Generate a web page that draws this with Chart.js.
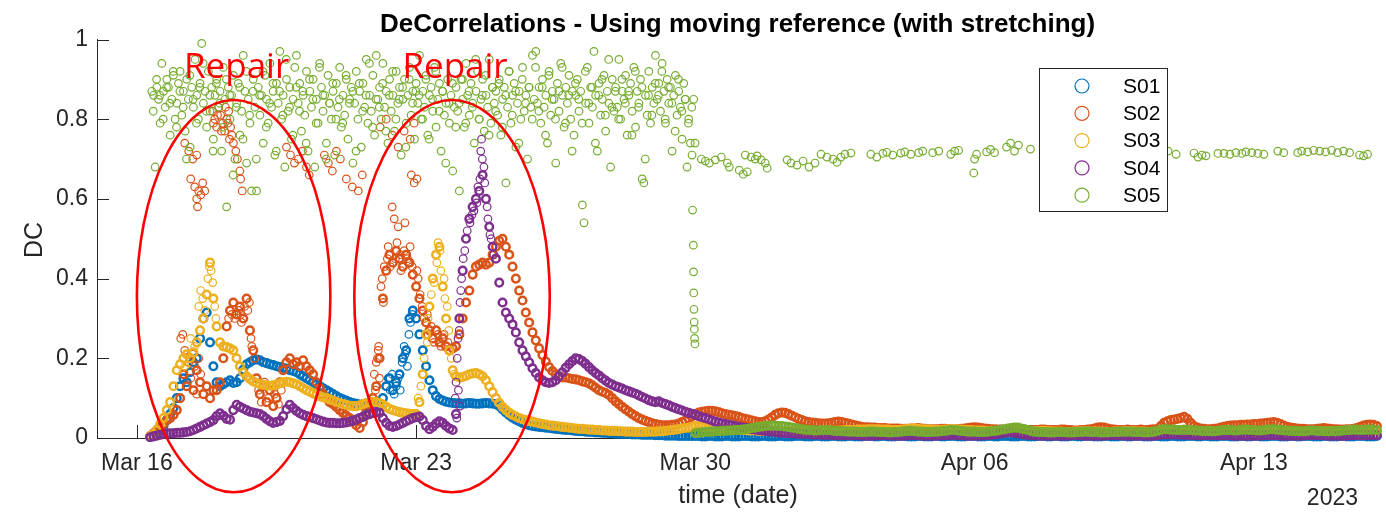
<!DOCTYPE html>
<html><head><meta charset="utf-8">
<script src="https://cdn.jsdelivr.net/npm/chart.js@4.4.1/dist/chart.umd.min.js"></script>
<style>html,body{margin:0;padding:0;background:#fff;}canvas{display:block;}</style>
</head><body>
<canvas id="c" width="1386" height="512" style="width:1386px;height:512px"></canvas>
<script>
const TITLE = 'DeCorrelations - Using moving reference (with stretching)';
const X_TITLE = 'time (date)';
const Y_TITLE = 'DC';
const YEAR_LABEL = '2023';
const REPAIR_LABEL = 'Repair';
const seriesNames = ['S01', 'S02', 'S03', 'S04', 'S05'];
const seriesColors = ['#0072BD', '#D95319', '#EDB120', '#7E2F8E', '#77AC30'];
// x values are days counted from Mar 15 2023 00:00
const xTickDays = [1, 8, 15, 22, 29];
const xTickLabels = ['Mar 16', 'Mar 23', 'Mar 30', 'Apr 06', 'Apr 13'];
const yTicks = [0, 0.2, 0.4, 0.6, 0.8, 1];
const X_MIN = 0, X_MAX = 32.15;
// regular 2-hour sampling grid (first sample Mar 16 08:00)
const GRID_START = 4 / 3;
const GRID_STEP = 1 / 12;
const S05_LOW_START = 15;
const S05_HIGH_START = 1.375;
const S05_HIGH_STEP = 1 / 24;
const S05_HIGHB_START = 1.41;

const s01 = [
0.003,0.008,0.012,0.02,0.03,0.045,0.06,0.075,
0.1,0.13,0.15,0.14,0.165,0.19,0.2,0.25,0.3,0.315,0.24,0.18,
0.14,0.13,0.135,0.14,0.145,0.138,0.14,0.15,0.172,0.185,0.19,0.195,
0.197,0.195,0.19,0.188,0.185,0.183,0.18,0.178,0.176,0.174,0.17,0.168,
0.165,0.16,0.155,0.15,0.145,0.14,0.135,0.13,0.125,0.12,0.115,0.11,
0.105,0.1,0.097,0.094,0.09,0.088,0.086,0.084,0.082,0.08,0.079,0.078,
0.078,0.08,0.1,0.13,0.15,0.12,0.14,0.16,0.2,0.22,0.3,0.32,
0.3,0.26,0.22,0.18,0.145,0.12,0.105,0.098,0.094,0.091,0.089,0.088,
0.087,0.087,0.086,0.087,0.088,0.087,0.086,0.086,0.087,0.088,0.087,0.086,
0.085,0.08,0.072,0.064,0.057,0.051,0.046,0.042,0.038,0.035,0.032,0.03,
0.029,0.028,0.027,0.026,0.025,0.024,0.023,0.022,0.021,0.02,0.02,0.019,
0.018,0.017,0.017,0.016,0.015,0.015,0.014,0.014,0.013,0.013,0.012,0.012,
0.011,0.011,0.01,0.01,0.01,0.009,0.009,0.009,0.008,0.008,0.008,0.008,
0.007,0.007,0.007,0.006,0.006,0.006,0.006,0.005,0.005,0.005,0.005,0.005,
0.005,0.005,0.004,0.004,0.005,0.005,0.004,0.004,0.004,0.005,0.005,0.004,
0.004,0.004,0.005,0.005,0.005,0.004,0.004,0.004,0.005,0.005,0.004,0.004,
0.004,0.005,0.005,0.004,0.004,0.004,0.005,0.005,0.005,0.004,0.004,0.004,
0.005,0.005,0.004,0.004,0.004,0.005,0.005,0.004,0.004,0.004,0.005,0.005,
0.004,0.004,0.004,0.005,0.005,0.005,0.004,0.004,0.005,0.005,0.004,0.004,
0.004,0.005,0.005,0.005,0.004,0.004,0.004,0.005,0.005,0.004,0.004,0.004,
0.005,0.005,0.004,0.004,0.005,0.005,0.005,0.004,0.004,0.004,0.005,0.005,
0.005,0.004,0.004,0.004,0.005,0.005,0.004,0.004,0.005,0.005,0.005,0.004,
0.004,0.004,0.005,0.005,0.004,0.004,0.004,0.005,0.005,0.005,0.004,0.004,
0.005,0.005,0.004,0.004,0.004,0.005,0.005,0.004,0.004,0.005,0.005,0.005,
0.004,0.004,0.004,0.005,0.005,0.004,0.004,0.004,0.005,0.005,0.004,0.004,
0.005,0.005,0.005,0.004,0.004,0.004,0.005,0.005,0.004,0.004,0.004,0.005,
0.005,0.004,0.004,0.004,0.005,0.005,0.005,0.004,0.004,0.005,0.005,0.004,
0.004,0.004,0.005,0.005,0.005,0.004,0.004,0.004,0.005,0.005,0.004,0.004,
0.005,0.005,0.004,0.004,0.004,0.005,0.005,0.005,0.004,0.004,0.004,0.005,
0.005,0.004,0.004,0.005,0.005,0.005,0.004,0.004,0.004,0.005,0.005,0.004,
0.004,0.004,0.005,0.005,0.004,0.004,0.004,0.005,0.005,0.005,0.004,0.004,
0.004,0.005
];
const s01Scatter = [
[7.3,0.15],[7.35,0.12],[7.4,0.16],[7.45,0.11],[7.5,0.13],[7.55,0.15],[7.6,0.12],[7.65,0.19],
[7.7,0.23],[7.72,0.21],[7.78,0.18],[7.82,0.26],[7.86,0.29],[7.9,0.31]
];

const s02 = [
0.005,0.012,0.02,0.028,0.035,0.045,0.05,0.058,
0.07,0.1,0.16,0.13,0.2,0.12,0.17,0.14,0.11,0.13,0.1,0.12,
0.12,0.14,0.2,0.28,0.32,0.34,0.31,0.33,0.3,0.35,0.27,0.22,
0.15,0.11,0.13,0.09,0.12,0.08,0.1,0.14,0.17,0.19,0.2,0.185,
0.19,0.18,0.195,0.18,0.17,0.16,0.14,0.125,0.11,0.1,0.09,0.085,
0.078,0.07,0.063,0.056,0.05,0.042,0.032,0.025,0.04,0.065,0.085,0.1,
0.13,0.2,0.35,0.42,0.46,0.44,0.47,0.45,0.43,0.46,0.44,0.41,
0.38,0.35,0.32,0.29,0.27,0.25,0.27,0.24,0.25,0.23,0.22,0.225,
0.23,0.26,0.3,0.34,0.37,0.41,0.43,0.435,0.44,0.435,0.44,0.46,
0.48,0.495,0.5,0.48,0.46,0.43,0.4,0.37,0.345,0.315,0.29,0.265,
0.245,0.225,0.208,0.192,0.178,0.168,0.16,0.155,0.152,0.152,0.15,0.148,
0.147,0.145,0.142,0.14,0.137,0.132,0.126,0.12,0.116,0.113,0.108,0.1,
0.092,0.085,0.078,0.072,0.066,0.06,0.055,0.05,0.046,0.043,0.04,0.037,
0.035,0.033,0.032,0.032,0.032,0.033,0.034,0.036,0.04,0.044,0.049,0.054,
0.06,0.064,0.066,0.067,0.068,0.068,0.067,0.065,0.062,0.06,0.058,0.057,
0.055,0.053,0.05,0.048,0.046,0.044,0.042,0.04,0.04,0.042,0.046,0.052,
0.058,0.062,0.064,0.063,0.06,0.056,0.052,0.048,0.045,0.042,0.04,0.039,
0.038,0.037,0.036,0.036,0.037,0.038,0.04,0.041,0.04,0.038,0.036,0.034,
0.032,0.03,0.028,0.027,0.027,0.026,0.026,0.025,0.025,0.025,0.024,0.024,
0.024,0.024,0.023,0.023,0.023,0.024,0.024,0.025,0.024,0.023,0.022,0.022,
0.022,0.022,0.023,0.023,0.022,0.022,0.021,0.022,0.023,0.024,0.025,0.026,
0.027,0.026,0.025,0.024,0.023,0.022,0.022,0.021,0.021,0.021,0.021,0.022,
0.022,0.023,0.022,0.021,0.02,0.02,0.02,0.02,0.021,0.021,0.02,0.02,
0.02,0.02,0.021,0.021,0.02,0.02,0.019,0.019,0.02,0.02,0.021,0.022,
0.024,0.026,0.027,0.026,0.024,0.022,0.021,0.02,0.02,0.02,0.021,0.02,
0.02,0.02,0.021,0.02,0.02,0.021,0.022,0.022,0.03,0.038,0.042,0.045,
0.046,0.048,0.05,0.053,0.048,0.038,0.03,0.026,0.024,0.023,0.022,0.022,
0.023,0.024,0.026,0.028,0.03,0.031,0.032,0.032,0.033,0.033,0.034,0.034,
0.035,0.035,0.036,0.037,0.038,0.039,0.04,0.038,0.035,0.031,0.028,0.026,
0.025,0.024,0.023,0.023,0.022,0.022,0.022,0.023,0.024,0.025,0.024,0.023,
0.022,0.022,0.021,0.021,0.022,0.022,0.023,0.025,0.028,0.031,0.033,0.034,
0.033,0.03
];
const s02Scatter = [
[2.1,0.25],[2.15,0.26],[2.2,0.22],[2.3,0.19],[2.35,0.15],[2.4,0.21],[2.45,0.18],[2.5,0.11],[2.55,0.2],[2.6,0.16],
[3.3,0.3],[3.38,0.31],[3.45,0.3],[3.55,0.32],[3.6,0.31],[3.62,0.29],[3.7,0.33],[3.78,0.32],[3.82,0.34],[3.86,0.25],[3.88,0.23],
[3.95,0.2],[4.05,0.12],[4.12,0.09],[4.2,0.14],[4.3,0.1],[4.38,0.13],[4.45,0.11],[4.55,0.085],[4.62,0.12],
[6.95,0.16],[6.98,0.12],[7.0,0.19],[7.03,0.2],[7.05,0.22],[7.06,0.23],[7.08,0.15],[7.12,0.38],[7.15,0.4],[7.18,0.34],
[7.2,0.43],[7.28,0.45],[7.3,0.48],[7.35,0.43],[7.4,0.58],[7.45,0.55],[7.48,0.45],[7.52,0.49],[7.55,0.53],[7.6,0.46],
[7.62,0.42],[7.7,0.47],[7.72,0.54],[7.78,0.45],[7.8,0.44],[7.85,0.48],[7.9,0.43],
[8.02,0.42],[8.05,0.4],[8.1,0.36],[8.15,0.33],[8.2,0.3],[8.28,0.31],[8.3,0.26],[8.38,0.28],[8.45,0.24],[8.55,0.26],[8.62,0.23],[8.7,0.26],[8.8,0.24],
[2.2,0.74],[2.3,0.72],[2.4,0.7],[2.5,0.71],[2.35,0.65],[2.45,0.63],[2.5,0.6],[2.55,0.62],[2.6,0.61],[2.65,0.64],[2.7,0.62],[2.52,0.58],
[2.9,0.82],[2.95,0.8],[3.0,0.78],[3.05,0.83],[3.1,0.81],[3.15,0.79],[3.2,0.77],[3.25,0.8],[3.3,0.82],[3.35,0.78],
[2.92,0.79],[3.02,0.81],[3.12,0.77],[3.22,0.83],[3.28,0.79],[3.32,0.75],
[3.38,0.76],[3.42,0.74],[3.48,0.72],[3.52,0.7],[3.58,0.67],[3.6,0.65],[3.64,0.62],
[4.75,0.73],[4.85,0.71],[4.95,0.69],[5.05,0.7],[5.15,0.72],[5.25,0.68],[5.32,0.66],
[5.7,0.71],[5.8,0.69],[5.9,0.67],[6.0,0.72],[6.1,0.7],[6.25,0.65],[6.4,0.63],[6.55,0.62],[6.65,0.66],
[7.1,0.78],[7.25,0.8],[7.4,0.76],[7.55,0.73],[7.7,0.77],[7.85,0.75],[7.95,0.79],[7.88,0.66],[7.95,0.64],[8.02,0.65]
];

const s03 = [
0.004,0.01,0.02,0.035,0.05,0.07,0.09,0.13,
0.17,0.185,0.2,0.21,0.2,0.215,0.24,0.27,0.3,0.36,0.44,0.35,
0.28,0.24,0.23,0.228,0.225,0.22,0.2,0.18,0.165,0.155,0.148,0.142,
0.138,0.135,0.133,0.132,0.131,0.132,0.134,0.137,0.14,0.141,0.14,0.137,
0.135,0.13,0.125,0.12,0.116,0.112,0.108,0.105,0.102,0.1,0.097,0.094,
0.091,0.088,0.085,0.083,0.081,0.08,0.08,0.082,0.085,0.088,0.09,0.091,
0.09,0.088,0.084,0.078,0.073,0.07,0.067,0.065,0.063,0.062,0.061,0.06,
0.06,0.09,0.16,0.26,0.33,0.4,0.46,0.48,0.38,0.3,0.22,0.17,
0.155,0.152,0.153,0.156,0.16,0.162,0.163,0.16,0.155,0.145,0.13,0.115,
0.1,0.088,0.078,0.07,0.063,0.058,0.054,0.05,0.047,0.045,0.043,0.041,
0.039,0.037,0.035,0.034,0.032,0.031,0.03,0.029,0.028,0.027,0.026,0.025,
0.024,0.023,0.023,0.022,0.021,0.021,0.02,0.02,0.019,0.019,0.018,0.018,
0.018,0.017,0.017,0.016,0.016,0.016,0.015,0.015,0.015,0.015,0.016,0.016,
0.016,0.017,0.017,0.018,0.019,0.02,0.021,0.022,0.024,0.025,0.026,0.028,
0.03,0.03,0.029,0.028,0.027,0.026,0.025,0.024,0.024,0.023,0.022,0.022,
0.021,0.021,0.02,0.02,0.019,0.019,0.019,0.018,0.018,0.018,0.018,0.017,
0.017,0.017,0.017,0.016,0.016,0.016,0.016,0.016,0.015,0.015,0.015,0.015,
0.015,0.016,0.016,0.017,0.017,0.018,0.018,0.019,0.019,0.02,0.02,0.02,
0.02,0.021,0.021,0.021,0.022,0.022,0.022,0.022,0.021,0.021,0.021,0.02,
0.02,0.02,0.021,0.022,0.023,0.024,0.024,0.023,0.022,0.022,0.021,0.021,
0.02,0.02,0.02,0.021,0.021,0.022,0.022,0.021,0.021,0.02,0.02,0.02,
0.019,0.019,0.019,0.018,0.018,0.018,0.018,0.017,0.017,0.017,0.017,0.017,
0.017,0.016,0.016,0.016,0.016,0.017,0.017,0.017,0.018,0.018,0.017,0.017,
0.016,0.016,0.016,0.015,0.015,0.015,0.016,0.016,0.017,0.017,0.017,0.016,
0.016,0.016,0.015,0.015,0.015,0.015,0.016,0.016,0.016,0.017,0.017,0.017,
0.017,0.016,0.016,0.016,0.015,0.015,0.015,0.016,0.016,0.017,0.017,0.018,
0.018,0.018,0.017,0.017,0.017,0.016,0.016,0.016,0.016,0.016,0.017,0.017,
0.017,0.017,0.018,0.018,0.018,0.018,0.017,0.017,0.017,0.016,0.016,0.016,
0.016,0.016,0.017,0.017,0.018,0.018,0.018,0.017,0.017,0.017,0.016,0.016,
0.016,0.015,0.015,0.015,0.016,0.016,0.016,0.017,0.017,0.017,0.016,0.016,
0.016,0.016,0.017,0.017,0.017,0.018,0.018,0.018,0.017,0.017,0.017,0.016,
0.016,0.016
];
const s03Scatter = [
[2.2,0.18],[2.35,0.25],[2.45,0.23],[2.55,0.33],[2.6,0.37],[2.65,0.35],[2.7,0.32],[2.78,0.4],[2.82,0.43],[2.86,0.42],
[2.9,0.39],[2.95,0.33],[2.98,0.3],
[8.05,0.1],[8.12,0.13],[8.2,0.2],[8.28,0.24],[8.3,0.3],[8.38,0.36],[8.45,0.39],[8.52,0.44],[8.55,0.49],[8.6,0.47],
[8.62,0.42],[8.7,0.4],[8.72,0.35],[8.78,0.33],[8.82,0.27],[8.88,0.2],[8.95,0.16]
];

const s04 = [
0.002,0.004,0.006,0.008,0.01,0.011,0.012,0.012,
0.013,0.013,0.014,0.015,0.017,0.02,0.024,0.028,0.032,0.036,0.04,0.045,
0.055,0.062,0.056,0.048,0.046,0.07,0.083,0.078,0.074,0.07,0.066,0.064,
0.062,0.06,0.055,0.048,0.042,0.038,0.04,0.043,0.055,0.072,0.083,0.075,
0.068,0.062,0.058,0.055,0.053,0.05,0.047,0.044,0.041,0.039,0.038,0.038,
0.037,0.037,0.038,0.039,0.041,0.043,0.046,0.05,0.053,0.057,0.06,0.063,
0.065,0.063,0.05,0.038,0.03,0.028,0.03,0.034,0.038,0.042,0.046,0.05,
0.052,0.054,0.045,0.03,0.022,0.028,0.036,0.042,0.038,0.03,0.024,0.02,
0.06,0.3,0.42,0.5,0.55,0.58,0.6,0.62,0.66,0.6,0.53,0.48,
0.45,0.39,0.34,0.315,0.3,0.285,0.265,0.24,0.22,0.205,0.19,0.175,
0.163,0.152,0.145,0.14,0.138,0.14,0.145,0.155,0.165,0.176,0.185,0.193,
0.2,0.198,0.193,0.186,0.178,0.17,0.163,0.157,0.15,0.144,0.138,0.134,
0.13,0.127,0.124,0.12,0.117,0.114,0.111,0.107,0.103,0.099,0.095,0.092,
0.09,0.092,0.088,0.085,0.082,0.078,0.075,0.072,0.069,0.066,0.063,0.061,
0.058,0.055,0.052,0.05,0.047,0.044,0.041,0.039,0.037,0.035,0.033,0.032,
0.03,0.028,0.027,0.025,0.024,0.022,0.021,0.02,0.019,0.018,0.017,0.016,
0.015,0.014,0.013,0.013,0.012,0.012,0.011,0.011,0.01,0.01,0.01,0.009,
0.009,0.009,0.008,0.008,0.008,0.008,0.007,0.007,0.007,0.007,0.007,0.007,
0.007,0.007,0.006,0.006,0.006,0.006,0.006,0.007,0.007,0.007,0.007,0.006,
0.006,0.006,0.006,0.006,0.007,0.007,0.007,0.007,0.006,0.006,0.006,0.006,
0.006,0.006,0.007,0.007,0.007,0.008,0.008,0.007,0.007,0.006,0.006,0.006,
0.006,0.006,0.006,0.007,0.007,0.008,0.009,0.01,0.012,0.013,0.014,0.014,
0.013,0.012,0.01,0.009,0.008,0.007,0.007,0.006,0.006,0.006,0.006,0.006,
0.006,0.006,0.006,0.006,0.006,0.007,0.007,0.007,0.007,0.006,0.006,0.006,
0.006,0.006,0.006,0.006,0.007,0.007,0.007,0.007,0.007,0.006,0.006,0.006,
0.006,0.006,0.006,0.006,0.006,0.006,0.006,0.007,0.008,0.009,0.009,0.009,
0.009,0.009,0.009,0.008,0.008,0.008,0.007,0.007,0.007,0.007,0.007,0.007,
0.007,0.007,0.007,0.007,0.007,0.007,0.006,0.006,0.006,0.006,0.006,0.006,
0.006,0.006,0.006,0.007,0.007,0.007,0.007,0.007,0.006,0.006,0.006,0.006,
0.006,0.006,0.006,0.006,0.007,0.007,0.007,0.007,0.007,0.007,0.006,0.006,
0.006,0.006,0.006,0.006,0.006,0.007,0.007,0.007,0.007,0.007,0.007,0.007,
0.007,0.007
];
const s04Scatter = [
[8.98,0.1],[9.0,0.14],[9.02,0.05],[9.03,0.2],[9.05,0.25],[9.06,0.12],[9.08,0.27],[9.1,0.34],[9.1,0.08],[9.12,0.37],
[9.14,0.4],[9.18,0.45],[9.22,0.47],[9.28,0.52],[9.35,0.54],[9.4,0.56],[9.45,0.57],[9.52,0.59],[9.55,0.63],[9.6,0.65],
[9.62,0.72],[9.64,0.75],[9.66,0.7],[9.7,0.68],[9.72,0.64],[9.78,0.58],[9.8,0.55],[9.85,0.51],[9.88,0.5],[9.95,0.46]
];

const s05High = [
0.87,0.86,0.68,0.88,0.85,0.79,0.94,0.87,0.83,0.9,0.88,0.76,0.85,0.91,0.8,
0.84,0.89,0.92,0.81,0.87,0.77,0.9,0.85,0.73,0.88,0.83,0.95,0.86,0.8,0.89,0.99,0.84,0.87,0.78,0.92,0.82,0.88,0.75,0.86,
0.9,0.83,0.87,0.72,0.93,0.85,0.58,0.88,0.8,0.86,0.91,0.7,0.84,0.89,0.76,0.82,0.96,0.87,0.69,0.85,0.79,0.62,0.9,0.83,
0.62,0.88,0.81,0.86,0.74,0.91,0.85,0.79,0.94,0.83,0.87,0.71,0.89,0.84,0.97,0.8,0.86,0.68,0.9,0.82,0.88,0.75,0.85,0.93,
0.96,0.84,0.89,0.77,0.86,0.81,0.92,0.72,0.87,0.83,0.9,0.68,0.85,0.79,0.94,0.88,0.82,0.86,0.74,0.91,0.84,0.8,0.87,0.71,
0.89,0.83,0.93,0.78,0.86,0.81,0.9,0.75,0.85,0.88,0.69,0.84,0.92,0.8,0.87,0.73,0.89,0.83,0.95,0.79,0.86,0.82,0.91,0.76,
0.96,0.85,0.88,0.8,0.94,0.83,0.87,0.74,0.9,0.82,0.86,0.77,0.92,0.84,0.88,0.71,0.85,0.9,0.79,0.86,0.93,0.81,0.87,0.75,
0.89,0.84,0.96,0.8,0.87,0.83,0.91,0.76,0.86,0.88,0.82,0.93,0.78,0.85,0.89,0.72,0.87,0.81,0.84,0.9,0.79,0.86,0.67,0.83,
0.88,0.82,0.62,0.9,0.85,0.78,0.94,0.86,0.81,0.89,0.84,0.74,0.87,0.92,0.8,0.85,0.9,0.77,0.86,0.83,0.95,0.79,0.88,0.84,
0.87,0.81,0.9,0.76,0.85,0.88,0.64,0.83,0.92,0.79,0.86,0.89,0.73,0.84,0.87,0.8,0.93,0.82,0.86,0.7,0.88,0.83,0.96,0.85,
0.97,0.84,0.88,0.79,0.9,0.83,0.86,0.74,0.92,0.81,0.87,0.85,0.69,0.89,0.82,0.94,0.86,0.78,0.88,0.84,0.91,0.8,0.87,0.76,
0.86,0.9,0.82,0.87,0.585,0.54,0.84,0.93,0.79,0.88,0.83,0.97,0.86,0.72,0.89,0.81,0.85,0.91,0.77,0.87,0.84,0.68,0.9,0.82,
0.88,0.83,0.95,0.8,0.87,0.85,0.91,0.76,0.86,0.89,0.82,0.93,0.78,0.87,0.84,0.9,0.65,0.64,0.86,0.81,0.92,0.79,0.88,0.84,
0.96,0.85,0.89,0.82,0.94,0.87,0.79,0.9,0.84,0.88,0.72,0.86,0.91,0.81,0.87,0.83,0.75,0.89,0.85,0.68,0.8,0.74,0.71,0.85
];
const s05HighB = [
0.82,0.9,0.86,0.8,0.88,0.84,0.92,0.78,
0.87,0.83,0.7,0.91,0.85,0.79,0.88,0.94,0.82,0.86,0.72,0.89,
0.84,0.78,0.9,0.86,0.66,0.83,0.88,0.75,0.92,0.81,0.87,0.7,
0.86,0.92,0.78,0.84,0.89,0.72,0.87,0.81,0.95,0.83,0.76,0.88,
0.82,0.87,0.74,0.9,0.85,0.79,0.93,0.86,0.7,0.84,0.89,0.8,
0.85,0.79,0.91,0.84,0.87,0.72,0.89,0.82,0.86,0.94,0.78,0.85,
0.83,0.89,0.77,0.86,0.92,0.8,0.85,0.88,0.73,0.9,0.84,0.87,
0.86,0.8,0.9,0.75,0.85,0.92,0.82,0.87,0.69,0.84,0.89,0.78,
0.84,0.9,0.79,0.87,0.83,0.95,0.8,0.86,0.91,0.76,0.88,0.82,
0.89,0.78,0.86,0.92,0.81,0.87,0.74,0.9,0.84,0.88,0.8,0.93,
0.82,0.88,0.76,0.91,0.85,0.8,0.87,0.93,0.79,0.86,0.72,0.89,
0.85,0.79,0.92,0.84,0.88,0.74,0.86,0.9,0.81,0.95,0.83,0.87,
0.8,0.9,0.84,0.87,0.76,0.92,0.83,0.88,0.7,0.86,0.81,0.89,
0.86,0.92,0.8,0.88,0.84,0.77,0.9,0.82,0.85,0.79,0.83,0.74
];
const s05Sparse = [
[14.93,0.572],[14.95,0.484],[14.955,0.417],[14.96,0.364],[14.965,0.323],[14.97,0.291],[14.975,0.273],[14.98,0.25],[14.99,0.236],
[15.15,0.7],[15.25,0.695],[15.35,0.69],[15.5,0.698],[15.65,0.705],[15.8,0.69],[15.85,0.68],[16.1,0.672],[16.2,0.662],
[16.3,0.668],[16.25,0.71],[16.4,0.705],[16.5,0.7],[16.55,0.708],[16.65,0.698],[16.75,0.69],[16.8,0.677],[17.3,0.698],
[17.4,0.69],[17.55,0.685],[17.7,0.695],[17.85,0.68],[18.0,0.69],[18.15,0.712],[18.3,0.705],[18.45,0.7],[18.55,0.692],
[18.65,0.705],[18.75,0.712],[18.9,0.715],[19.4,0.712],[19.55,0.705],[19.7,0.714],[19.8,0.717],[19.95,0.71],[20.15,0.715],
[20.25,0.718],[20.4,0.712],[20.6,0.716],[20.7,0.72],[20.95,0.716],[21.1,0.72],[21.4,0.712],[21.5,0.72],[21.6,0.722],
[21.98,0.665],[22.0,0.7],[22.05,0.712],[22.3,0.718],[22.4,0.724],[22.5,0.716],[22.8,0.73],[22.9,0.74],[23.0,0.72],
[23.1,0.735],[23.4,0.725],
[26.85,0.72],[27.05,0.712],[27.5,0.715],[27.6,0.705],[27.7,0.71],[27.8,0.708],[28.1,0.714],[28.25,0.714],[28.4,0.712],
[28.55,0.716],[28.7,0.714],[28.8,0.718],[28.95,0.716],[29.1,0.714],[29.25,0.712],[29.6,0.72],[29.75,0.716],[30.1,0.716],
[30.2,0.72],[30.35,0.718],[30.5,0.722],[30.65,0.72],[30.8,0.718],[30.95,0.722],[31.1,0.716],[31.25,0.72],[31.4,0.716],
[31.65,0.71],[31.75,0.708],[31.85,0.712]
];
const s05Low = [
0.012,0.013,0.014,0.015,0.016,0.016,0.017,0.017,0.018,0.018,0.019,0.019,
0.02,0.02,0.021,0.022,0.023,0.025,0.026,0.028,0.029,0.03,0.031,0.031,
0.031,0.03,0.03,0.029,0.028,0.026,0.025,0.023,0.022,0.021,0.02,0.02,
0.019,0.019,0.02,0.02,0.02,0.019,0.018,0.018,0.017,0.017,0.016,0.016,
0.016,0.015,0.015,0.015,0.016,0.016,0.016,0.015,0.015,0.015,0.014,0.014,
0.015,0.015,0.016,0.017,0.018,0.018,0.017,0.016,0.016,0.015,0.015,0.015,
0.016,0.016,0.017,0.018,0.019,0.02,0.02,0.019,0.018,0.017,0.016,0.016,
0.016,0.015,0.015,0.015,0.016,0.017,0.018,0.019,0.021,0.022,0.024,0.025,
0.026,0.026,0.024,0.022,0.02,0.018,0.016,0.015,0.015,0.015,0.014,0.014,
0.014,0.015,0.015,0.015,0.014,0.014,0.014,0.015,0.015,0.016,0.016,0.015,
0.015,0.015,0.014,0.014,0.014,0.015,0.015,0.015,0.016,0.016,0.016,0.016,
0.015,0.015,0.015,0.014,0.014,0.015,0.016,0.018,0.021,0.022,0.022,0.021,
0.021,0.02,0.02,0.021,0.02,0.02,0.019,0.019,0.018,0.018,0.018,0.017,
0.017,0.018,0.019,0.02,0.02,0.02,0.019,0.019,0.02,0.021,0.021,0.02,
0.02,0.019,0.019,0.02,0.021,0.022,0.022,0.021,0.02,0.019,0.019,0.018,
0.018,0.018,0.017,0.017,0.018,0.019,0.019,0.018,0.018,0.017,0.017,0.017,
0.017,0.018,0.018,0.019,0.02,0.02,0.021,0.021,0.02,0.02,0.021,0.021,
0.021,0.02
];

// annotation ellipses (in data units: days, DC)
const repairZones = [
  { day: 3.425, dc: 0.356, halfDays: 2.425, halfDc: 0.492, labelDay: 3.5 },
  { day: 8.9, dc: 0.356, halfDays: 2.45, halfDc: 0.492, labelDay: 8.975 }
];
const REPAIR_LABEL_DC = 0.903;

function gridPoints(values, start, step) {
  return values.map((v, i) => ({ x: start + i * step, y: v }));
}
function pairPoints(pairs) {
  return pairs.map(p => ({ x: p[0], y: p[1] }));
}
// each series: [dense run (continuous record), sparse extra points]
const seriesParts = [
  [gridPoints(s01, GRID_START, GRID_STEP), pairPoints(s01Scatter)],
  [gridPoints(s02, GRID_START, GRID_STEP), pairPoints(s02Scatter)],
  [gridPoints(s03, GRID_START, GRID_STEP), pairPoints(s03Scatter)],
  [gridPoints(s04, GRID_START, GRID_STEP), pairPoints(s04Scatter)],
  [gridPoints(s05Low, S05_LOW_START, GRID_STEP),
   gridPoints(s05High, S05_HIGH_START, S05_HIGH_STEP).concat(gridPoints(s05HighB, S05_HIGHB_START, GRID_STEP), pairPoints(s05Sparse))]
];

const FONT = "'Liberation Sans', Arial, Helvetica, sans-serif";
const AXIS_COLOR = '#262626';

const overlay = {
  id: 'overlay',
  beforeDatasetsDraw(chart) {
    const { ctx, chartArea: a, scales: { x, y } } = chart;
    ctx.save();
    ctx.strokeStyle = AXIS_COLOR;
    ctx.lineWidth = 1;
    ctx.beginPath();
    xTickDays.forEach(d => {
      const px = Math.round(x.getPixelForValue(d)) + 0.5;
      ctx.moveTo(px, a.bottom); ctx.lineTo(px, a.bottom - 13);
    });
    yTicks.forEach(v => {
      const py = Math.round(y.getPixelForValue(v)) + 0.5;
      ctx.moveTo(a.left, py); ctx.lineTo(a.left + 12, py);
    });
    ctx.stroke();
    ctx.restore();
  },
  afterDatasetsDraw(chart) {
    const { ctx, scales: { x, y } } = chart;
    ctx.save();
    ctx.strokeStyle = '#FF0000';
    ctx.lineWidth = 2.6;
    repairZones.forEach(z => {
      const cx = x.getPixelForValue(z.day);
      const cy = y.getPixelForValue(z.dc);
      const rx = x.getPixelForValue(z.day + z.halfDays) - cx;
      const ry = cy - y.getPixelForValue(z.dc + z.halfDc);
      ctx.beginPath();
      ctx.ellipse(cx, cy, rx, ry, 0, 0, Math.PI * 2);
      ctx.stroke();
      ctx.fillStyle = '#FF0000';
      ctx.font = "35px 'Open Sans', 'Noto Sans', sans-serif";
      ctx.textAlign = 'center';
      ctx.textBaseline = 'alphabetic';
      ctx.fillText(REPAIR_LABEL, x.getPixelForValue(z.labelDay), y.getPixelForValue(REPAIR_LABEL_DC));
    });
    const lx = 1039, ly = 68, lw = 128, lh = 143;
    ctx.fillStyle = '#ffffff';
    ctx.fillRect(lx, ly, lw, lh);
    ctx.strokeStyle = AXIS_COLOR;
    ctx.lineWidth = 1;
    ctx.strokeRect(lx + 0.5, ly + 0.5, lw, lh);
    ctx.font = '21px ' + FONT;
    ctx.textAlign = 'left';
    ctx.textBaseline = 'middle';
    seriesNames.forEach((name, i) => {
      const yy = 86 + i * 27.3;
      ctx.beginPath();
      ctx.strokeStyle = seriesColors[i];
      ctx.lineWidth = 1.2;
      ctx.arc(1082, yy, 7, 0, Math.PI * 2);
      ctx.stroke();
      ctx.fillStyle = '#000000';
      ctx.fillText(name, 1123, yy + 1);
    });
    ctx.restore();
  },
  afterDraw(chart) {
    const { ctx } = chart;
    ctx.save();
    ctx.fillStyle = '#000000';
    ctx.font = 'bold 26px ' + FONT;
    ctx.textAlign = 'center';
    ctx.textBaseline = 'alphabetic';
    ctx.fillText(TITLE, 737.5, 32);
    ctx.fillStyle = AXIS_COLOR;
    ctx.font = '25px ' + FONT;
    ctx.fillText(X_TITLE, 738, 503);
    ctx.font = '23px ' + FONT;
    ctx.textAlign = 'right';
    ctx.fillText(YEAR_LABEL, 1358, 505);
    ctx.translate(42, 240);
    ctx.rotate(-Math.PI / 2);
    ctx.textAlign = 'center';
    ctx.font = '25px ' + FONT;
    ctx.fillText(Y_TITLE, 0, 0);
    ctx.restore();
  }
};

new Chart(document.getElementById('c'), {
  type: 'scatter',
  data: {
    datasets: seriesParts.map((parts, i) => ({
      label: seriesNames[i],
      data: parts[0].concat(parts[1]),
      denseCount: parts[0].length,
      borderColor: seriesColors[i],
      backgroundColor: 'rgba(0,0,0,0)',
      pointStyle: 'circle',
      pointRadius: 3.8,
      pointBorderWidth: c => (c.dataIndex < c.dataset.denseCount ? 2.5 : 1.2),
      order: 5 - i,
      clip: false
    }))
  },
  options: {
    responsive: false,
    animation: false,
    devicePixelRatio: 1,
    events: [],
    layout: { padding: { left: 0, right: 3, top: 39.5, bottom: 0 } },
    scales: {
      x: {
        type: 'linear', position: 'bottom', min: X_MIN, max: X_MAX,
        afterBuildTicks: s => { s.ticks = xTickDays.map(v => ({ value: v })); },
        afterFit: s => { s.height = 74; },
        ticks: {
          autoSkip: false, maxRotation: 0, padding: 12,
          color: AXIS_COLOR, font: { family: FONT, size: 23 },
          callback: v => xTickLabels[xTickDays.indexOf(v)]
        },
        grid: { display: true, drawOnChartArea: false, drawTicks: false },
        border: { display: true, color: AXIS_COLOR, width: 1 }
      },
      y: {
        type: 'linear', min: 0, max: 1,
        afterBuildTicks: s => { s.ticks = yTicks.map(v => ({ value: v })); },
        afterFit: s => { s.width = 97; },
        ticks: {
          padding: 9, color: AXIS_COLOR, font: { family: FONT, size: 23 },
          callback: v => (v === 0 || v === 1) ? String(v) : v.toFixed(1)
        },
        grid: { display: true, drawOnChartArea: false, drawTicks: false },
        border: { display: true, color: AXIS_COLOR, width: 1 }
      }
    },
    plugins: { legend: { display: false }, tooltip: { enabled: false }, title: { display: false } }
  },
  plugins: [overlay]
});
</script>
</body></html>
